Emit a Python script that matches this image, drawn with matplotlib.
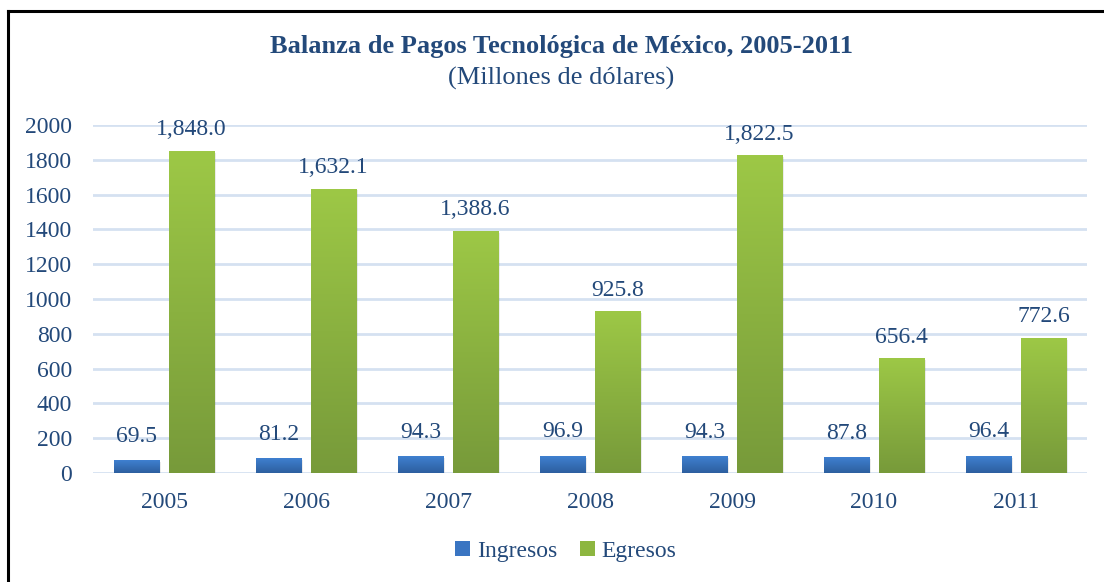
import matplotlib.pyplot as plt
from matplotlib.patches import Patch
import numpy as np

plt.rcParams['font.family'] = ['Liberation Serif', 'DejaVu Serif']

# Data
years = ['2005', '2006', '2007', '2008', '2009', '2010', '2011']
ingresos = [69.5, 81.2, 94.3, 96.9, 94.3, 87.8, 96.4]
egresos = [1848.0, 1632.1, 1388.6, 925.8, 1822.5, 656.4, 772.6]

text_color = '#23497A'
grid_color = '#D5E1F1'

fig = plt.figure(figsize=(11.04, 5.82), dpi=100)
ax = fig.add_axes([93 / 1104, 1 - 473 / 582, 994 / 1104, 348 / 582])

x = np.arange(len(years))
width = 0.317
offset = 0.194


def gradient_bars(xs, heights, top_color, bottom_color):
    # vertical gradient for each bar, plus a faint shadow
    grad = np.linspace(0, 1, 256).reshape(-1, 1)
    c1 = np.array(plt.matplotlib.colors.to_rgb(top_color))
    c2 = np.array(plt.matplotlib.colors.to_rgb(bottom_color))
    img = (c1[None, None, :] * (1 - grad[..., None]) + c2[None, None, :] * grad[..., None])
    for xi, h in zip(xs, heights):
        ax.bar(xi + 0.012, h, width, bottom=-8, color='#000000', alpha=0.08, zorder=2)
        ax.imshow(img, extent=[xi - width / 2, xi + width / 2, 0, h],
                  aspect='auto', origin='upper', zorder=3)


gradient_bars(x - offset, ingresos, '#3F80D0', '#2D5F9F')
gradient_bars(x + offset, egresos, '#9DC846', '#779A3A')

for xi, v in zip(x - offset, ingresos):
    ax.annotate(f'{v:,.1f}', (xi, v), xytext=(0, 10), textcoords='offset points',
                ha='center', va='bottom', fontsize=17, color=text_color, zorder=5)
for xi, v in zip(x + offset, egresos):
    ax.annotate(f'{v:,.1f}', (xi, v), xytext=(0, 8), textcoords='offset points',
                ha='center', va='bottom', fontsize=17, color=text_color, zorder=5)

ax.set_xlim(-0.5, len(years) - 0.5)
ax.set_ylim(0, 2000)
ax.set_yticks(np.arange(0, 2001, 200))
ax.set_xticks(x)
ax.set_xticklabels(years)
ax.tick_params(axis='both', length=0, labelsize=17, labelcolor=text_color)
ax.tick_params(axis='y', pad=15)
ax.tick_params(axis='x', pad=14)
ax.yaxis.grid(True, color=grid_color, linewidth=2)
ax.set_axisbelow(True)
for s in ax.spines.values():
    s.set_visible(False)

fig.text(561 / 1104, 1 - 47 / 582, 'Balanza de Pagos Tecnológica de México, 2005-2011',
         ha='center', va='center', fontsize=19, fontweight='bold', color=text_color)
fig.text(561 / 1104, 1 - 78 / 582, '(Millones de dólares)',
         ha='center', va='center', fontsize=19, color=text_color)

handles = [Patch(facecolor='#3A75C2', edgecolor='none'),
           Patch(facecolor='#8DB640', edgecolor='none')]
fig.legend(handles, ['Ingresos', 'Egresos'], loc='center', bbox_to_anchor=(566 / 1104, 1 - 551 / 582),
           ncol=2, frameon=False, fontsize=17, labelcolor=text_color,
           handlelength=0.6, handleheight=0.6, handletextpad=0.3, columnspacing=1.0)

# frame lines at top and left
fig.add_artist(plt.Line2D([7.5 / 1104, 1], [1 - 10.5 / 582, 1 - 10.5 / 582], color='black', linewidth=2.2))
fig.add_artist(plt.Line2D([7.5 / 1104, 7.5 / 1104], [0, 1 - 10.5 / 582], color='black', linewidth=2.2))

fig.savefig('out.png', dpi=100)
